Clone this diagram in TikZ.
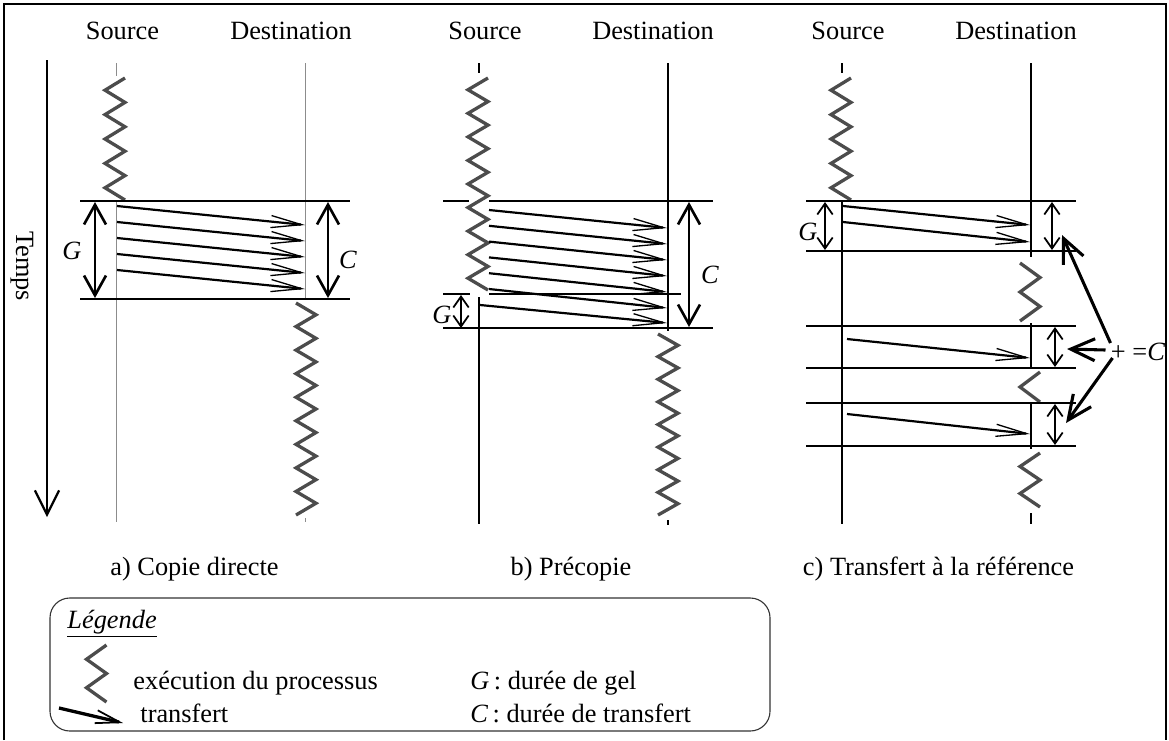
\documentclass[tikz,border=0pt]{standalone}
\usepackage{fontspec}
\setmainfont{Liberation Serif}
\usetikzlibrary{arrows.meta}
\definecolor{procgray}{gray}{0.3}
\definecolor{linegray}{gray}{0.55}
\definecolor{boxgray}{gray}{0.2}
% zigzag of a running process: x, y top, y bottom, periods, first side (1 right, -1 left)
\newcommand{\proc}[5]{%
  \draw[exec] ({#1+10*(#5)},#2)
    \foreach \k in {1,...,#4} {
      -- ({#1-10*(#5)},{#2+(\k-0.5)*(#3-#2)/#4}) -- ({#1+10*(#5)},{#2+\k*(#3-#2)/#4})
    };
}

\begin{document}
\begin{tikzpicture}[x=0.016cm, y=-0.016cm,
    every node/.style={font=\fontsize{12}{14}\selectfont, inner sep=0pt},
    exec/.style={procgray, line width=1.5pt, line join=miter},
    thinline/.style={linegray, line width=0.45pt},
    life/.style={line width=0.9pt},
    bound/.style={line width=1.2pt},
    transfer/.style={line width=1pt, -{Straight Barb[length=14pt,width=5.5pt,line width=0.6pt]}},
    gspan/.style={line width=1.2pt, {Straight Barb[length=9pt,width=10pt]}-{Straight Barb[length=9pt,width=10pt]}},
    smallspan/.style={line width=0.8pt, {Straight Barb[length=5pt,width=7pt]}-{Straight Barb[length=5pt,width=7pt]}},
    pointer/.style={line width=1.4pt, -{Straight Barb[length=11pt,width=10pt]}},
    legarrow/.style={line width=1.5pt, -{Straight Barb[length=11pt,width=6pt,line width=0.8pt]}},
    timeline/.style={line width=1pt, -{Straight Barb[length=11pt,width=11pt]}}]
    \useasboundingbox (0,0) rectangle (1169,740);
    % Draw frame
    \draw[line width=1pt] (4,740) -- (4,4) -- (1166,4) -- (1166,740);
    % Draw time axis
    \draw[timeline] (47,60) -- (47,517);
    \node (temps) at (22,266) [rotate=-90] {Temps};

    % a) Copie directe
    \node (srcA) at (122.5,39) [anchor=base] {Source};
    \node (dstA) at (291,39) [anchor=base] {Destination};
    \draw[thinline] (116,63) -- (116,76);
    \draw[thinline] (116,200) -- (116,522);
    \draw[thinline] (305,63) -- (305,299);
    \draw[thinline] (305,518) -- (305,522);
    \proc{115}{78}{200}{5}{1}
    \proc{306}{303}{515}{9}{-1}
    \draw[bound] (80,201) -- (350,201);
    \draw[bound] (80,299) -- (350,299);
    \foreach \i in {0,...,4}
        \draw[transfer] (117,206+16*\i) -- (305,225+16*\i);
    \draw[gspan] (95,202) -- (95,298);
    \draw[gspan] (328,202) -- (328,298);
    \node (gA) at (72,251) {\textit{G}};
    \node (cA) at (348,260) {\textit{C}};
    \node (capA) at (194.5,575) [anchor=base] {a) Copie directe};

    % b) Precopie
    \node (srcB) at (485,39) [anchor=base] {Source};
    \node (dstB) at (653,39) [anchor=base] {Destination};
    \draw[life] (479,63) -- (479,73);
    \draw[life] (479,297) -- (479,524);
    \draw[life] (668,63) -- (668,331);
    \draw[life] (668,520) -- (668,525);
    \proc{478}{78}{290}{9}{1}
    \proc{668}{334}{515}{8}{-1}
    \draw[bound] (443,201) -- (469,201) (489,201) -- (713,201);
    \draw[bound] (443,294) -- (470,294) (489,294) -- (681,294);
    \draw[bound] (443,328) -- (713,328);
    \foreach \i in {0,...,5}
        \draw[transfer] (489,210+15.8*\i) -- (667,228+16*\i);
    \draw[transfer] (480,305) -- (667,323);
    \draw[smallspan] (461,295) -- (461,328);
    \node (gB) at (442,315) {\textit{G}};
    \draw[gspan] (689,202) -- (689,327);
    \node (cB) at (710,275) {\textit{C}};
    \node (capB) at (571,575) [anchor=base] {b) Précopie};

    % c) Transfert a la reference
    \node (srcC) at (848,39) [anchor=base] {Source};
    \node (dstC) at (1016,39) [anchor=base] {Destination};
    \draw[life] (842,63) -- (842,73);
    \draw[life] (842,200) -- (842,524);
    \draw[life] (1031,63) -- (1031,257);
    \draw[life] (1031,323) -- (1031,367);
    \draw[life] (1031,404) -- (1031,449);
    \draw[life] (1031,513) -- (1031,524);
    \proc{841}{78}{200}{5}{1}
    \proc{1030}{263}{321}{2}{-1}
    \proc{1030}{372}{402}{1}{1}
    \proc{1030}{453}{507}{2}{1}
    \foreach \y in {201,251,326,368,403,446}
        \draw[bound] (806,\y) -- (1076,\y);
    \draw[transfer] (843,206) -- (1030,225);
    \draw[transfer] (843,222) -- (1030,242);
    \draw[transfer] (847,339) -- (1030,358);
    \draw[transfer] (847,414) -- (1030,434);
    \draw[smallspan] (825,202) -- (825,250);
    \node (gC) at (808,232) {\textit{G}};
    \draw[smallspan] (1052,202) -- (1052,250);
    \draw[smallspan] (1055,327) -- (1055,367);
    \draw[smallspan] (1055,404) -- (1055,445);
    \node (sum) at (1138,352) {+ =\textit{C}};
    \coordinate (pa) at (1062,235);
    \coordinate (pb) at (1067,349);
    \coordinate (pc) at (1066,423);
    \draw[pointer] ([shift={(0,-9)}]sum.west) -- (pa);
    \draw[pointer] ([shift={(-5,-2)}]sum.west) -- (pb);
    \draw[pointer] ([shift={(2,6)}]sum.west) -- (pc);
    \node (capC) at (938.5,575) [anchor=base] {c) Transfert à la référence};

    % Legend
    \draw[boxgray, line width=0.5pt, rounded corners=9pt] (50,598) rectangle (770,731);
    \node (legTitle) at (67,628) [anchor=base west] {\underline{\textit{Légende}}};
    \proc{96.5}{645}{702}{2}{1}
    \node (legExec) at (133,689) [anchor=base west] {exécution du processus};
    \draw[legarrow] (59,708) -- (123,723);
    \node (legTrans) at (140,722) [anchor=base west] {transfert};
    \node (legG) at (470,689) [anchor=base west] {\textit{G}\,: durée de gel};
    \node (legC) at (470,722) [anchor=base west] {\textit{C}\,: durée de transfert};
\end{tikzpicture}
\end{document}
